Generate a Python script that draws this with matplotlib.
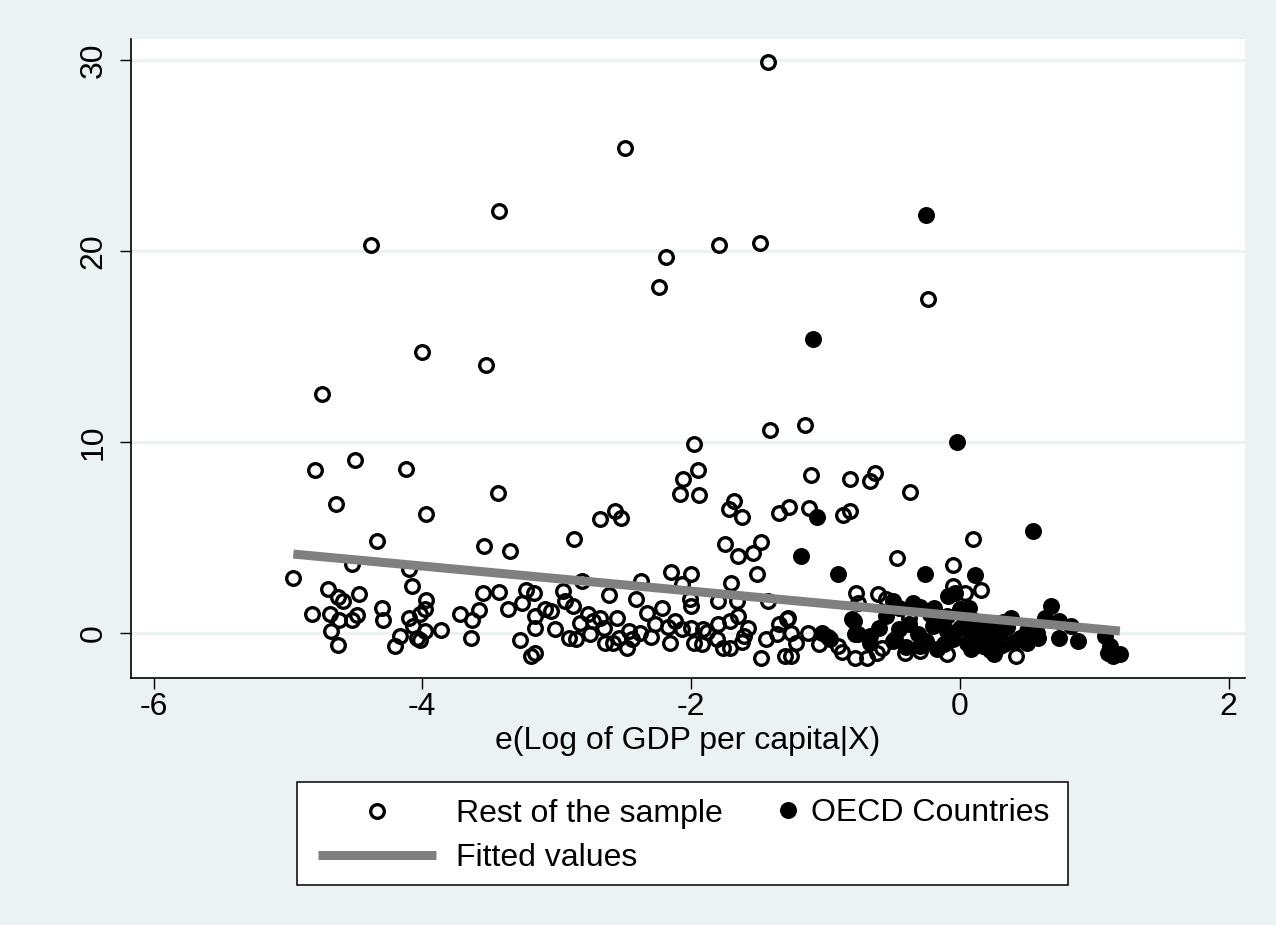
import matplotlib
matplotlib.use("Agg")
import matplotlib.pyplot as plt
from matplotlib.lines import Line2D
from matplotlib.patches import Rectangle

plt.rcParams['font.family'] = ['Liberation Sans', 'DejaVu Sans']
plt.rcParams['axes.unicode_minus'] = False

# values
rest_x = [-1.43, -2.49, -3.43, -4.38, -2.19, -1.79, -1.49, -2.24, -0.24, -4.75,
          -4.00, -3.53, -4.80, -4.50, -4.12, -1.15, -1.41, -1.98, -4.64, -3.97,
          -3.44, -1.95, -2.06, -2.08, -1.94, -1.11, -0.82, -0.67, -0.63, -0.37,
          -1.68, -1.72, -1.62, -1.35, -1.27, -1.12, -0.87, -0.82, -2.57, -2.52,
          -2.68, 0.10, -4.34, -2.87, -3.54, -3.35, -1.75, -1.48, -1.54, -1.65,
          -0.47, -4.52, -2.15, -2.00, -1.51, -0.05,
          -4.96, -4.70, -4.63, -4.59, -4.47, -4.82, -4.69, -4.62, -4.52, -4.49,
          -4.68, -4.63, -4.30, -4.29, -4.10, -4.08, -3.97, -3.98, -4.02, -4.10,
          -4.07, -3.98, -4.04, -4.02, -4.17, -4.20, -3.86, -3.72, -3.63, -3.58,
          -3.55, -3.43, -3.64, -3.36, -3.27, -3.23, -3.17, -3.26, -3.16, -3.16,
          -3.19, -3.16,
          -2.95, -2.81, -2.61, -2.41, -2.37, -2.88, -2.94, -3.04, -3.01, -3.09,
          -2.83, -2.77, -2.68, -2.55, -2.73, -2.65, -2.91, -2.86, -2.75, -2.64,
          -2.54, -2.48, -2.44, -2.38, -2.33, -2.27, -2.22, -2.07, -2.01, -2.00,
          -2.17, -2.07, -2.16, -2.00, -1.98, -1.91, -1.92, -1.81, -1.80, -1.76,
          -1.71, -1.71, -1.65, -1.58, -1.61, -1.80, -1.70, -1.66, -1.43, -1.44,
          -1.48, -1.35, -1.29, -1.30, -1.36,
          0.16, -0.05, 0.04, -0.77, -0.61, -0.55, -0.76, -1.28, -1.26, -1.13,
          -0.97, -0.91, -1.05, -1.26, -0.78, -0.69, -0.62, -0.41, -0.50, -0.10,
          0.42, -0.38, -2.46, -2.30, -1.88, -1.62, -1.22, -0.88, -0.58, -0.30,
          0.22, 0.33, -2.58, -2.12]
rest_y = [29.9, 25.4, 22.1, 20.3, 19.7, 20.3, 20.4, 18.1, 17.5, 12.5,
          14.7, 14.05, 8.55, 9.07, 8.6, 10.9, 10.6, 9.9, 6.76, 6.24,
          7.34, 8.55, 8.08, 7.27, 7.24, 8.29, 8.04, 7.97, 8.35, 7.36,
          6.92, 6.47, 6.05, 6.28, 6.61, 6.54, 6.19, 6.40, 6.40, 6.01,
          5.98, 4.91, 4.82, 4.91, 4.56, 4.30, 4.65, 4.74, 4.16, 4.04,
          3.92, 3.60, 3.21, 3.08, 3.11, 3.55,
          2.90, 2.32, 1.89, 1.68, 2.03, 1.01, 1.01, 0.68, 0.66, 0.93,
          0.10, -0.65, 1.30, 0.66, 3.34, 2.46, 1.73, 1.24, 0.98, 0.77,
          0.37, 0.10, -0.25, -0.37, -0.16, -0.68, 0.16, 1.01, 0.66, 1.20,
          2.08, 2.15, -0.28, 1.27, -0.38, 2.25, 2.11, 1.59, 0.89, 0.28,
          -1.21, -1.03,
          2.20, 2.73, 1.99, 1.77, 2.73, 1.42, 1.68, 1.15, 0.19, 1.24,
          0.54, 0.98, 0.80, 0.80, 0.63, 0.28, -0.25, -0.33, -0.07, -0.51,
          -0.25, -0.77, -0.33, 0.02, 1.06, 0.46, 1.33, 2.55, 1.77, 1.42,
          0.31, 0.19, -0.51, 0.28, -0.51, 0.19, -0.59, -0.33, 0.46, -0.77,
          0.63, -0.77, 0.89, 0.28, -0.16, 1.68, 2.59, 1.68, 1.68, -0.33,
          -1.29, 0.46, 0.72, -1.21, -0.07,
          2.25, 2.46, 2.11, 2.11, 2.03, 1.77, 1.59, 0.80, 0.02, 0.02,
          -0.33, -0.68, -0.59, -1.21, -1.29, -1.29, -1.03, -1.03, -0.42, -1.12,
          -1.21, 0.80, 0.10, -0.20, 0.05, -0.45, -0.55, -1.00, -0.80, -0.95,
          -0.90, -0.60, -0.55, 0.60]

oecd_x = [-0.25, -1.09, -0.02, -1.06, 0.54, -1.18, -0.91, -0.26, 0.11, -0.09,
          -0.04, -0.50, -0.45, -0.30, -0.19, 0.00, 0.07, -0.79, -0.78, -0.67,
          -0.67, -0.60, -0.45, -0.48, -0.31, -0.25, -0.20, -0.10, 0.00, 0.10,
          0.20, 0.30, 0.05, 0.17, 0.30, 0.45, 0.50, 0.57, -0.17, -0.30,
          0.25, 0.68, 0.63, 0.74, 0.83, 0.74, 0.58, 0.88, 0.50, 1.08,
          1.12, 1.10, 1.19, 1.14, -1.03, -0.98, -0.80, -0.76, -0.35, -0.15,
          0.15, 0.35, 0.25, -0.05, 0.40, 0.10, -0.10, 0.20, -0.38, 0.32,
          -0.55, -0.12, 0.08, 0.38, -0.22, 0.27, -0.40, 0.02]
oecd_y = [21.9, 15.4, 10.0, 6.05, 5.33, 4.04, 3.11, 3.08, 3.03, 1.94,
          2.11, 1.68, 1.33, 1.36, 1.30, 1.24, 1.33, 0.63, -0.07, -0.16,
          -0.51, 0.28, 0.19, -0.33, -0.07, -0.42, 0.37, 0.10, 0.28, -0.07,
          0.10, -0.07, -0.51, -0.68, -0.68, -0.25, 0.10, 0.02, -0.86, -0.68,
          -1.12, 1.42, 0.80, 0.63, 0.37, -0.25, -0.25, -0.42, -0.51, -0.16,
          -0.68, -1.03, -1.12, -1.21, 0.00, -0.20, 0.73, -0.05, 1.55, 0.60,
          0.50, 0.30, -0.30, -0.30, -0.50, 0.70, 0.90, -0.35, 0.45, 0.55,
          0.90, -0.60, -0.85, 0.80, 1.00, 0.40, -0.75, 0.95]

fit_x = [-4.96, 1.19]
fit_y = [4.13, 0.10]

x_ticks = [-6, -4, -2, 0, 2]
y_ticks = [0, 10, 20, 30]

bg = '#EAF2F3'
W, H = 1276, 925
FS = 23

fig = plt.figure(figsize=(12.76, 9.25), dpi=100, facecolor=bg)
ax = fig.add_axes([131 / W, 1 - 678 / H, (1245 - 131) / W, (678 - 39) / H])
ax.set_facecolor('white')

ax.plot(rest_x, rest_y, 'o', ls='none', mfc='none', mec='black',
        ms=9.8, mew=2.4, zorder=2)
ax.plot(oecd_x, oecd_y, 'o', ls='none', mfc='black', mec='black',
        ms=9.8, mew=2.4, zorder=3)
ax.plot(fit_x, fit_y, color='#808080', lw=6.5, solid_capstyle='butt', zorder=4)

ax.set_xlim(-6.168, 2.121)
ax.set_ylim(-2.36, 31.1)
ax.set_xticks(x_ticks)
ax.set_yticks(y_ticks)
ax.yaxis.grid(True, color=bg, lw=2.2)
ax.set_axisbelow(True)

for side in ['top', 'right']:
    ax.spines[side].set_visible(False)
for side in ['left', 'bottom']:
    ax.spines[side].set_linewidth(1.2)

ax.tick_params(direction='out', length=8.0, width=1.0, labelsize=FS, pad=2)
ax.tick_params(axis='y', pad=8)
plt.setp(ax.get_yticklabels(), rotation=90, va='center')
ax.set_xlabel('e(Log of GDP per capita|X)', fontsize=FS, labelpad=3)

# legend: box plus two frameless legends so the columns can differ
box = Rectangle((297 / W, 1 - 885 / H), 771 / W, 103 / H, transform=fig.transFigure,
                facecolor='white', edgecolor='black', lw=1.1, zorder=1)
fig.patches.append(box)

h_rest = Line2D([], [], marker='o', ls='none', mfc='none', mec='black', ms=9.8, mew=2.4)
h_fit = Line2D([], [], color='#808080', lw=6.5, solid_capstyle='butt')
h_oecd = Line2D([], [], marker='o', ls='none', mfc='black', mec='black', ms=9.8, mew=2.4)

leg1 = fig.legend([h_rest, h_fit], ['Rest of the sample', 'Fitted values'],
                  loc='center left', bbox_to_anchor=(318 / W, 1 - 836 / H),
                  frameon=False, fontsize=FS, handlelength=3.7, handletextpad=0.62,
                  labelspacing=0.45, borderpad=0, borderaxespad=0)
leg2 = fig.legend([h_oecd], ['OECD Countries'],
                  loc='center left', bbox_to_anchor=(772 / W, 1 - 813 / H),
                  frameon=False, fontsize=FS, handlelength=1.0, handletextpad=0.22,
                  borderpad=0, borderaxespad=0)

fig.savefig('out.png', dpi=100, facecolor=bg)
